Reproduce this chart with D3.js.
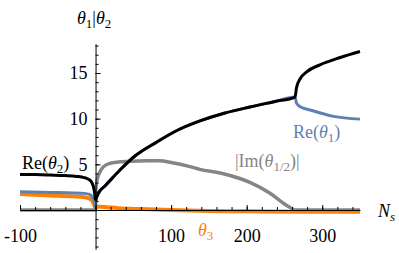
<!DOCTYPE html>
<html>
<head>
<meta charset="utf-8">
<script src="https://cdn.jsdelivr.net/npm/d3@7"></script>
<style>
  body { margin: 0; background: #fff; }
  svg { display: block; }
  svg text { font-family: "Liberation Serif", "Times New Roman", Times, serif !important; }
  .axis path, .axis line { stroke: #000; stroke-width: 1; }
  .axis text { font-size: 18px; fill: #000; }
</style>
</head>
<body>
<svg id="chart"></svg>
<script>
// Re of the left real root (black) and left blue root, N_s < 0
const blackLeftN = [-100, -80, -60, -40, -25, -15, -10, -6, -3, -1.5, -0.5, 0];
const blackLeftV = [3.9, 3.88, 3.83, 3.77, 3.68, 3.55, 3.4, 3.15, 2.6, 2.0, 1.4, 1.05];
const blueLeftN = [-100, -60, -30, -15, -8, -4, -2, -1, 0];
const blueLeftV = [2.0, 1.92, 1.87, 1.82, 1.7, 1.4, 1.0, 0.6, 0.1];

// Re(θ1) = Re(θ2) while the pair is complex, N_s > 0
const pairN = [0, 2, 5, 12.4, 32.3, 52.1, 81.2, 106.4, 138.2, 171.3, 204.4, 237.5, 264];
const pairV = [1.05, 1.5, 2.0, 2.63, 4.38, 5.91, 7.45, 8.65, 9.75, 10.62, 11.28, 11.88, 12.37];

// after the split: upper branch Re(θ2) black, lower Re(θ1) blue
const upperN = [264, 266, 271, 279, 297, 324, 350];
const upperV = [12.37, 13.4, 14.4, 15.1, 15.9, 16.7, 17.35];
const lowerN = [264, 266, 271, 284, 315, 350];
const lowerV = [12.37, 11.7, 11.3, 10.95, 10.25, 9.95];

// |Im(θ1/2)|
const imN = [-100, -50, 0, 0.5, 1.5, 3, 6, 10, 19, 30, 50, 70, 85, 100, 125, 138, 165, 191, 205, 231, 251, 257, 264, 350];
const imV = [0, 0, 0, 2.3, 3.0, 3.6, 4.2, 4.7, 5.1, 5.25, 5.35, 5.4, 5.38, 5.2, 4.75, 4.45, 4.05, 3.45, 3.0, 1.83, 0.6, 0.3, 0, 0];

// θ3
const th3N = [-100, -60, -30, -15, -8, -4, -2, -1, 0, 3, 6, 15, 30, 60, 100, 150, 200, 270, 350];
const th3V = [1.75, 1.6, 1.5, 1.4, 1.25, 0.95, 0.6, 0.4, 0.28, 0.35, 0.36, 0.3, 0.2, 0.1, 0.0, -0.1, -0.15, -0.2, -0.2];

const xMajor = [-100, 0, 100, 200, 300];
const yMajor = [5, 10, 15];

const W = 399, H = 253;
const svg = d3.select("#chart").attr("width", W).attr("height", H);

const x = d3.scaleLinear().domain([-100, 350]).range([20, 360]);
const y = d3.scaleLinear().domain([0, 15]).range([210, 73]);
const yFull = d3.scaleLinear().domain([-4.3, 18.2]).range([y(-4.3), y(18.2)]);

const zip = (ns, vs) => ns.map((n, i) => [n, vs[i]]);
const line = d3.line()
  .curve(d3.curveMonotoneX)
  .x(d => x(d[0]))
  .y(d => y(d[1]));

const colors = { black: "#000", blue: "#5e81b5", orange: "#ff8000", gray: "#858585" };

const plot = svg.append("g");

function draw(data, color, width) {
  plot.append("path")
    .datum(data)
    .attr("fill", "none")
    .attr("stroke", color)
    .attr("stroke-width", width)
    .attr("stroke-linejoin", "round")
    .attr("d", line);
}

draw(zip(imN, imV), colors.gray, 3.5);
draw(zip(th3N, th3V), colors.orange, 4);
draw(zip(blueLeftN, blueLeftV), colors.blue, 3);
draw(zip(pairN, pairV).concat(zip(lowerN, lowerV).slice(1)), colors.blue, 3);
draw(zip(blackLeftN, blackLeftV), colors.black, 3);
draw(zip(pairN, pairV).concat(zip(upperN, upperV).slice(1)), colors.black, 3);

// Axes
const fmt = d => d < 0 ? "-" + Math.abs(d) : "" + d;

svg.append("g")
  .attr("class", "axis")
  .attr("transform", `translate(0,${y(0)})`)
  .call(d3.axisBottom(x).tickValues(d3.range(-100, 351, 20)).tickSize(-3).tickSizeOuter(0).tickFormat(""));

svg.append("g")
  .attr("class", "axis")
  .attr("transform", `translate(0,${y(0)})`)
  .call(d3.axisBottom(x).tickValues(xMajor).tickSize(-5).tickSizeOuter(0).tickPadding(19).tickFormat(fmt))
  .call(g => g.select(".domain").remove())
  .call(g => g.selectAll(".tick").filter(d => d === 0).select("text").remove());

svg.append("g")
  .attr("class", "axis")
  .attr("transform", `translate(${x(0)},0)`)
  .call(d3.axisLeft(yFull).tickValues(d3.range(-4, 19, 1)).tickSize(-3).tickSizeOuter(0).tickFormat(""));

svg.append("g")
  .attr("class", "axis")
  .attr("transform", `translate(${x(0)},0)`)
  .call(d3.axisLeft(y).tickValues(yMajor).tickSize(-5).tickSizeOuter(0).tickPadding(8).tickFormat(fmt))
  .call(g => g.select(".domain").remove());

// Labels
function label(xp, yp, color, parts) {
  const t = svg.append("text")
    .attr("x", xp).attr("y", yp)
    .attr("fill", color)
    .attr("font-size", 18);
  parts.forEach(p => {
    const s = t.append("tspan").text(p.t);
    if (p.i) s.attr("font-style", "italic");
    if (p.sub) s.attr("font-size", 13).attr("dy", 4);
    if (p.up) s.attr("dy", -4);
  });
  return t;
}

label(77, 24, colors.black, [
  { t: "θ", i: true }, { t: "1", sub: true }, { t: "|", up: true },
  { t: "θ", i: true }, { t: "2", sub: true }
]);
label(378, 217, colors.black, [{ t: "N", i: true }, { t: "s", i: true, sub: true }]);
label(22, 169, colors.black, [
  { t: "Re(" }, { t: "θ", i: true }, { t: "2", sub: true }, { t: ")", up: true }
]);
label(293, 138, colors.blue, [
  { t: "Re(" }, { t: "θ", i: true }, { t: "1", sub: true }, { t: ")", up: true }
]);
label(235, 167, colors.gray, [
  { t: "|Im(" }, { t: "θ", i: true }, { t: "1/2", sub: true }, { t: ")|", up: true }
]);
label(198, 236, colors.orange, [{ t: "θ", i: true }, { t: "3", sub: true }]);
</script>
</body>
</html>
